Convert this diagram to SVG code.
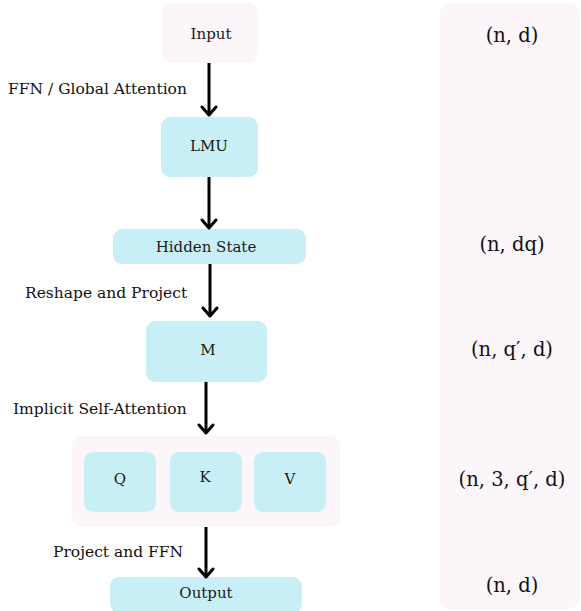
<svg xmlns="http://www.w3.org/2000/svg" width="581" height="611" viewBox="0 0 581 611">
  <defs>
    <style>
      .pink { fill: #fcf6fa; }
      .cyan { fill: #c9eff6; }
      .lbl { font-family: "DejaVu Serif", "Liberation Serif", serif; font-size: 15px; fill: #1a1a1a; text-anchor: middle; dominant-baseline: central; }
      .side { font-family: "DejaVu Serif", "Liberation Serif", serif; font-size: 15.5px; fill: #111; text-anchor: start; }
      .dim { font-family: "DejaVu Serif", "Liberation Serif", serif; font-size: 19.5px; fill: #111; text-anchor: middle; dominant-baseline: central; }
      .edge { stroke: #000; stroke-width: 3; fill: none; }
      .head { stroke: #000; stroke-width: 3; fill: none; stroke-linecap: round; stroke-linejoin: round; }
    </style>
  </defs>

  <!-- shape column on the right -->
  <g id="shapes">
    <rect class="pink" x="440" y="3" width="140" height="606" rx="10"/>
    <text class="dim" x="512" y="35">(n, d)</text>
    <text class="dim" x="512" y="244">(n, dq)</text>
    <text class="dim" x="512" y="349">(n, q′, d)</text>
    <text class="dim" x="512" y="479">(n, 3, q′, d)</text>
    <text class="dim" x="512" y="585">(n, d)</text>
  </g>

  <g id="input">
    <rect class="pink" x="162" y="3" width="96" height="60" rx="9"/>
    <text class="lbl" x="211" y="34">Input</text>
  </g>

  <g id="lmu">
    <rect class="cyan" x="161" y="117" width="97" height="60" rx="9"/>
    <text class="lbl" x="209" y="146">LMU</text>
  </g>

  <g id="hidden-state">
    <rect class="cyan" x="113" y="229" width="193" height="35" rx="9"/>
    <text class="lbl" x="206" y="247">Hidden State</text>
  </g>

  <g id="m">
    <rect class="cyan" x="146" y="321" width="121" height="61" rx="9"/>
    <text class="lbl" x="208" y="350">M</text>
  </g>

  <g id="qkv">
    <rect class="pink" x="72" y="436" width="268" height="91" rx="10"/>
    <g id="q">
      <rect class="cyan" x="84" y="452" width="72" height="60" rx="9"/>
      <text class="lbl" x="120" y="479">Q</text>
    </g>
    <g id="k">
      <rect class="cyan" x="170" y="452" width="72" height="60" rx="9"/>
      <text class="lbl" x="205" y="477">K</text>
    </g>
    <g id="v">
      <rect class="cyan" x="254" y="452" width="72" height="60" rx="9"/>
      <text class="lbl" x="290" y="479">V</text>
    </g>
  </g>

  <g id="output">
    <rect class="cyan" x="110" y="577" width="192" height="36" rx="9"/>
    <text class="lbl" x="206" y="593">Output</text>
  </g>

  <!-- connectors with their step labels -->
  <g id="connectors">
    <line class="edge" x1="209" y1="63" x2="209" y2="114"/>
    <polyline class="head" points="202,107 209,115 216,107"/>
    <text class="side" x="8" y="94">FFN / Global Attention</text>

    <line class="edge" x1="209" y1="177" x2="209" y2="227"/>
    <polyline class="head" points="202,220 209,228 216,220"/>

    <line class="edge" x1="210" y1="264" x2="210" y2="315"/>
    <polyline class="head" points="203,308 210,316 217,308"/>
    <text class="side" x="25" y="298">Reshape and Project</text>

    <line class="edge" x1="206" y1="382" x2="206" y2="432"/>
    <polyline class="head" points="199,425 206,433 213,425"/>
    <text class="side" x="13" y="414">Implicit Self-Attention</text>

    <line class="edge" x1="206" y1="527" x2="206" y2="576"/>
    <polyline class="head" points="199,569 206,577 213,569"/>
    <text class="side" x="53" y="557">Project and FFN</text>
  </g>
</svg>
